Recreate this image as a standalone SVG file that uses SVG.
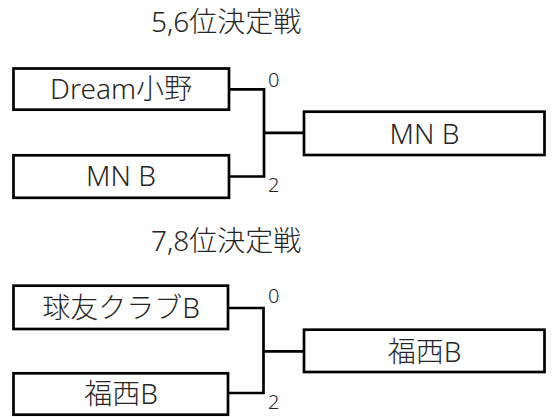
<svg xmlns="http://www.w3.org/2000/svg" width="553" height="417" viewBox="0 0 553 417">
<style>
  .box { fill: #ffffff; stroke: #000000; stroke-width: 2.7; }
  .line { fill: none; stroke: #000000; stroke-width: 2.7; }
  .t { font-family: "Noto Sans", "Noto Sans CJK JP", sans-serif; font-size: 28px; font-weight: 300; fill: #262626; }
  .c { text-anchor: middle; }
  .score { font-family: "Noto Sans", "Noto Sans CJK JP", sans-serif; font-size: 20px; font-weight: 300; fill: #262626; }
</style>
<rect width="553" height="417" fill="#ffffff"/>

<g id="title1"><text class="t" x="151" y="32">5,6位決定戦</text></g>
<g id="title2"><text class="t" x="151" y="251">7,8位決定戦</text></g>

<g id="connectors">
  <path class="line" d="M229,89.3 H264 M229,176.5 H264 M264,88 V177.8 M264,132.8 H304"/>
  <path class="line" d="M228,308 H263.5 M228,393 H263.5 M263.5,306.7 V394.3 M263.5,351.3 H304"/>
</g>

<g id="n1">
  <rect class="box" x="13.5" y="68.5" width="215.5" height="41.2"/>
  <text class="t c" x="121" y="99.3">Dream小野</text>
</g>
<g id="n2">
  <rect class="box" x="13.5" y="155.3" width="215.5" height="42.5"/>
  <text class="t c" x="121" y="186">MN B</text>
</g>
<g id="n3">
  <rect class="box" x="304" y="111.7" width="240.5" height="43.3"/>
  <text class="t c" x="424.5" y="143.5">MN B</text>
</g>
<g id="s1a"><text class="score" x="268" y="87">0</text></g>
<g id="s1b"><text class="score" x="268" y="192">2</text></g>

<g id="n4">
  <rect class="box" x="13.5" y="285.7" width="214.5" height="43.3"/>
  <text class="t c" x="121" y="317.5">球友クラブB</text>
</g>
<g id="n5">
  <rect class="box" x="13.5" y="373.3" width="214.5" height="41.4"/>
  <text class="t c" x="121" y="403.7">福西B</text>
</g>
<g id="n6">
  <rect class="box" x="304" y="329.7" width="240.5" height="42.3"/>
  <text class="t c" x="424.5" y="361.5">福西B</text>
</g>
<g id="s2a"><text class="score" x="268" y="303">0</text></g>
<g id="s2b"><text class="score" x="268" y="409">2</text></g>
</svg>
